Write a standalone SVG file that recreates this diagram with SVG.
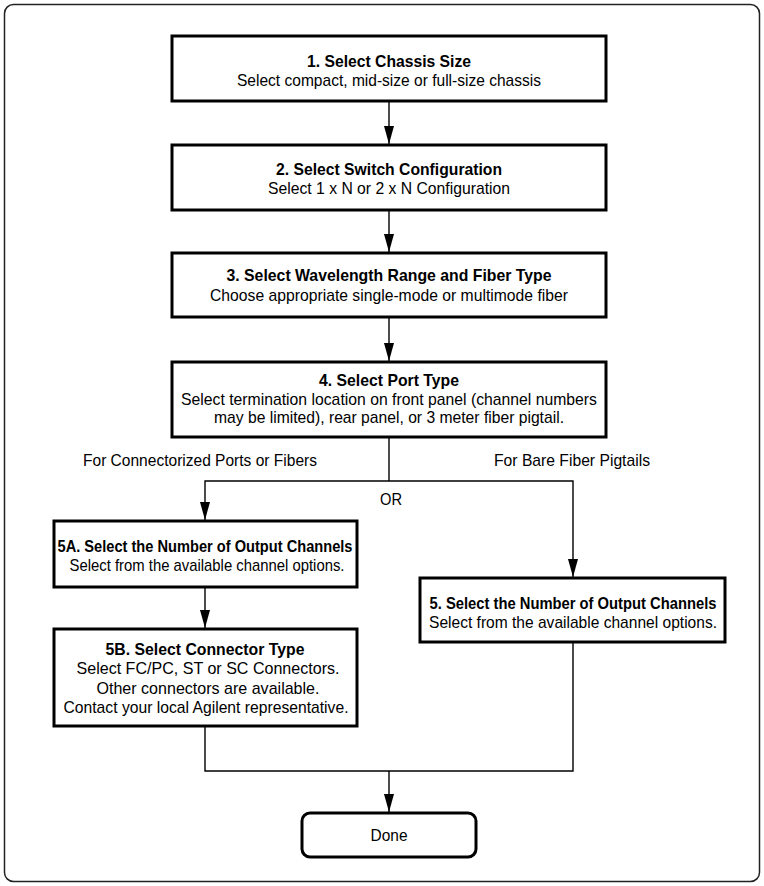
<svg xmlns="http://www.w3.org/2000/svg" width="764" height="886" viewBox="0 0 764 886">
<defs>
<style>
.box{fill:#fff;stroke:#000;stroke-width:3}
.frame{fill:#fff;stroke:#222;stroke-width:1.5}
.t{font-family:"Liberation Sans",Arial,sans-serif;font-size:17px;text-anchor:middle;fill:#000}
.b{font-weight:bold}
.c{fill:none;stroke:#000;stroke-width:1.4}
</style>
<marker id="ah" markerWidth="18" markerHeight="10" refX="18" refY="5" viewBox="0 0 18 10" markerUnits="userSpaceOnUse" orient="auto">
<path d="M0,0 L18,5 L0,10 Z" fill="#000"/>
</marker>
</defs>
<rect class="frame" x="4.5" y="4.5" width="755" height="877" rx="9"/>

<g id="connectors">
<line class="c" x1="389" y1="101" x2="389" y2="144" marker-end="url(#ah)"/>
<line class="c" x1="389" y1="210" x2="389" y2="252" marker-end="url(#ah)"/>
<line class="c" x1="389" y1="317" x2="389" y2="361" marker-end="url(#ah)"/>
<polyline class="c" points="389,437 389,481"/>
<polyline class="c" points="389,481 205,481 205,520" marker-end="url(#ah)"/>
<polyline class="c" points="389,481 573,481 573,577" marker-end="url(#ah)"/>
<line class="c" x1="205" y1="587" x2="205" y2="628" marker-end="url(#ah)"/>
<polyline class="c" points="205,726 205,771 573,771 573,642"/>
<line class="c" x1="389" y1="771" x2="389" y2="812" marker-end="url(#ah)"/>
<text class="t" x="200" y="466" textLength="234" lengthAdjust="spacingAndGlyphs">For Connectorized Ports or Fibers</text>
<text class="t" x="572" y="466" textLength="156" lengthAdjust="spacingAndGlyphs">For Bare Fiber Pigtails</text>
<text class="t" x="391" y="505" textLength="22" lengthAdjust="spacingAndGlyphs">OR</text>
</g>

<g id="n1">
<rect class="box" x="172" y="36" width="434" height="65"/>
<text class="t b" x="389" y="67" textLength="164" lengthAdjust="spacingAndGlyphs">1. Select Chassis Size</text>
<text class="t" x="389" y="86" textLength="304" lengthAdjust="spacingAndGlyphs">Select compact, mid-size or full-size chassis</text>
</g>
<g id="n2">
<rect class="box" x="172" y="145" width="434" height="65"/>
<text class="t b" x="389" y="175" textLength="226" lengthAdjust="spacingAndGlyphs">2. Select Switch Configuration</text>
<text class="t" x="389" y="194" textLength="242" lengthAdjust="spacingAndGlyphs">Select 1 x N or 2 x N Configuration</text>
</g>
<g id="n3">
<rect class="box" x="172" y="253" width="434" height="64"/>
<text class="t b" x="389" y="281" textLength="325" lengthAdjust="spacingAndGlyphs">3. Select Wavelength Range and Fiber Type</text>
<text class="t" x="389" y="301" textLength="358" lengthAdjust="spacingAndGlyphs">Choose appropriate single-mode or multimode fiber</text>
</g>
<g id="n4">
<rect class="box" x="172" y="362" width="434" height="75"/>
<text class="t b" x="389" y="386" textLength="140" lengthAdjust="spacingAndGlyphs">4. Select Port Type</text>
<text class="t" x="389" y="405" textLength="416" lengthAdjust="spacingAndGlyphs">Select termination location on front panel (channel numbers</text>
<text class="t" x="389" y="423" textLength="350" lengthAdjust="spacingAndGlyphs">may be limited), rear panel, or 3 meter fiber pigtail.</text>
</g>
<g id="n5a">
<rect class="box" x="54" y="521" width="303" height="66"/>
<text class="t b" x="205" y="552" textLength="295" lengthAdjust="spacingAndGlyphs">5A. Select the Number of Output Channels</text>
<text class="t" x="207" y="571" textLength="275" lengthAdjust="spacingAndGlyphs">Select from the available channel options.</text>
</g>
<g id="n5b">
<rect class="box" x="54" y="629" width="303" height="97"/>
<text class="t b" x="205" y="655" textLength="199" lengthAdjust="spacingAndGlyphs">5B. Select Connector Type</text>
<text class="t" x="208" y="674" textLength="263" lengthAdjust="spacingAndGlyphs">Select FC/PC, ST or SC Connectors.</text>
<text class="t" x="208" y="694" textLength="223" lengthAdjust="spacingAndGlyphs">Other connectors are available.</text>
<text class="t" x="206" y="713" textLength="285" lengthAdjust="spacingAndGlyphs">Contact your local Agilent representative.</text>
</g>
<g id="n5">
<rect class="box" x="420" y="578" width="305" height="64"/>
<text class="t b" x="573" y="609" textLength="287" lengthAdjust="spacingAndGlyphs">5. Select the Number of Output Channels</text>
<text class="t" x="573" y="628" textLength="288" lengthAdjust="spacingAndGlyphs">Select from the available channel options.</text>
</g>
<g id="done">
<rect class="box" x="302" y="813" width="174" height="44" rx="8"/>
<text class="t" x="389" y="841" textLength="37" lengthAdjust="spacingAndGlyphs">Done</text>
</g>
</svg>
